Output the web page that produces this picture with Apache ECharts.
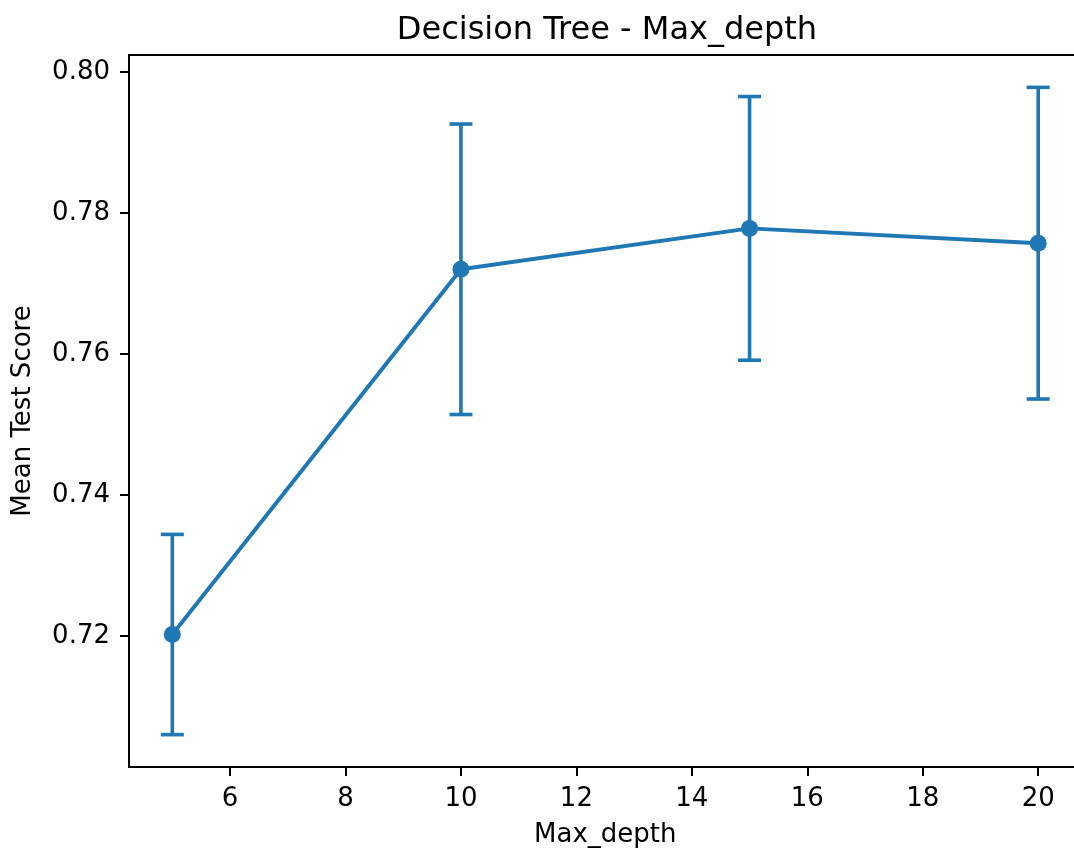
<!DOCTYPE html>
<html>
<head>
<meta charset="utf-8">
<title>Decision Tree - Max_depth</title>
<script src="https://cdn.jsdelivr.net/npm/echarts@6/dist/echarts.min.js"></script>
<style>
  html, body { margin: 0; padding: 0; background: #fff; }
  #chart { width: 1074px; height: 853px; }
</style>
</head>
<body>
<div id="chart"></div>
<script>
// Grid-search results for the decision tree's max_depth parameter
const depths = [5, 10, 15, 20];
const meanScores = [0.7202, 0.7720, 0.7778, 0.7757];
const stdScores = [0.0142, 0.0206, 0.0187, 0.0221];

// Tick positions shown on each axis
const xTicks = [6, 8, 10, 12, 14, 16, 18, 20];
const yTicks = [0.72, 0.74, 0.76, 0.78, 0.80];

const COLOR = '#1f77b4';
const FONT = 'DejaVu Sans';

// Axis limits padded by 5% of the data span on each side
function paddedRange(lo, hi) {
  const pad = (hi - lo) * 0.05;
  return [lo - pad, hi + pad];
}
const xRange = paddedRange(Math.min(...depths), Math.max(...depths));
const lows = meanScores.map((m, i) => m - stdScores[i]);
const highs = meanScores.map((m, i) => m + stdScores[i]);
const yRange = paddedRange(Math.min(...lows), Math.max(...highs));

const errorData = depths.map((d, i) => [d, lows[i], highs[i]]);
const lineData = depths.map((d, i) => [d, meanScores[i]]);

const chart = echarts.init(document.getElementById('chart'), null, { renderer: 'canvas' });

const axisLineStyle = { color: '#000', width: 2 };

chart.setOption({
  backgroundColor: '#fff',
  animation: false,
  title: {
    text: 'Decision Tree - Max_depth',
    left: 602,
    top: 10,
    textAlign: 'center',
    textStyle: { fontFamily: FONT, fontSize: 32, fontWeight: 'normal', color: '#000' }
  },
  grid: {
    left: 129,
    right: -7.5,
    top: 55,
    bottom: 86,
    show: true,
    borderColor: '#000',
    borderWidth: 2,
    containLabel: false,
    outerBoundsMode: 'none'
  },
  xAxis: {
    type: 'value',
    min: xRange[0],
    max: xRange[1],
    name: 'Max_depth',
    nameLocation: 'middle',
    nameGap: 55,
    nameTextStyle: { fontFamily: FONT, fontSize: 26, color: '#000' },
    axisLine: { show: true, onZero: false, lineStyle: axisLineStyle },
    axisTick: { show: true, length: 9, lineStyle: axisLineStyle, customValues: xTicks },
    axisLabel: {
      fontFamily: FONT, fontSize: 26, color: '#000', margin: 19,
      customValues: xTicks,
      formatter: v => String(v)
    },
    splitLine: { show: false }
  },
  yAxis: {
    type: 'value',
    min: yRange[0],
    max: yRange[1],
    name: 'Mean Test Score',
    nameLocation: 'middle',
    nameGap: 93,
    nameTextStyle: { fontFamily: FONT, fontSize: 26, color: '#000' },
    axisLine: { show: true, onZero: false, lineStyle: axisLineStyle },
    axisTick: { show: true, length: 9, lineStyle: axisLineStyle, customValues: yTicks },
    axisLabel: {
      fontFamily: FONT, fontSize: 26, color: '#000', margin: 19,
      customValues: yTicks,
      formatter: v => v.toFixed(2)
    },
    splitLine: { show: false }
  },
  series: [
    {
      // vertical error bars with caps
      type: 'custom',
      z: 2,
      data: errorData,
      encode: { x: 0, y: [1, 2] },
      renderItem: function (params, api) {
        const x = api.value(0);
        const lo = api.coord([x, api.value(1)]);
        const hi = api.coord([x, api.value(2)]);
        const half = 11.5;
        const style = { stroke: COLOR, lineWidth: 3.6, fill: null };
        return {
          type: 'group',
          children: [
            { type: 'line', shape: { x1: lo[0], y1: lo[1], x2: hi[0], y2: hi[1] }, style },
            { type: 'line', shape: { x1: lo[0] - half, y1: lo[1], x2: lo[0] + half, y2: lo[1] }, style },
            { type: 'line', shape: { x1: hi[0] - half, y1: hi[1], x2: hi[0] + half, y2: hi[1] }, style }
          ]
        };
      }
    },
    {
      type: 'line',
      z: 3,
      data: lineData,
      symbol: 'circle',
      symbolSize: 17,
      showSymbol: true,
      itemStyle: { color: COLOR },
      lineStyle: { color: COLOR, width: 3.9 },
      emphasis: { disabled: true }
    }
  ]
});
</script>
</body>
</html>
